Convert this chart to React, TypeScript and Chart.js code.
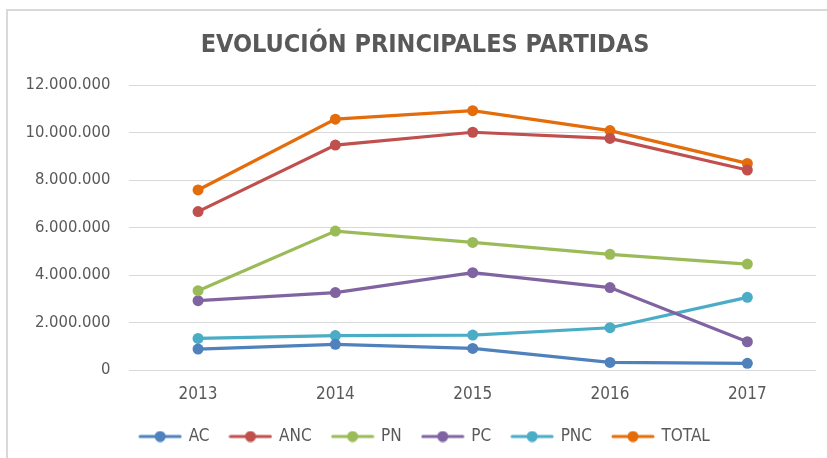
import React, { useEffect, useRef } from "react";
import { Chart, registerables } from "chart.js";

Chart.register(...registerables);

const years = ["2013", "2014", "2015", "2016", "2017"];
const acValues = [880000, 1080000, 910000, 320000, 280000];
const ancValues = [6670000, 9470000, 10010000, 9750000, 8420000];
const pnValues = [3340000, 5850000, 5370000, 4870000, 4460000];
const pcValues = [2920000, 3260000, 4100000, 3470000, 1190000];
const pncValues = [1330000, 1450000, 1470000, 1780000, 3060000];
const totalValues = [7580000, 10560000, 10920000, 10080000, 8700000];

const seriesNames = ["AC", "ANC", "PN", "PC", "PNC", "TOTAL"];
const seriesColors = ["#4F81BD", "#C0504D", "#9BBB59", "#8064A2", "#4BACC6", "#E46C0A"];
const seriesValues = [acValues, ancValues, pnValues, pcValues, pncValues, totalValues];

const FONT = "'Liberation Sans Narrow', 'DejaVu Sans Condensed', sans-serif";

function makeMarker(color: string): HTMLCanvasElement {
  const c = document.createElement("canvas");
  c.width = 44;
  c.height = 12;
  const ctx = c.getContext("2d")!;
  ctx.strokeStyle = color;
  ctx.lineWidth = 3;
  ctx.lineCap = "round";
  ctx.beginPath();
  ctx.moveTo(2, 6);
  ctx.lineTo(42, 6);
  ctx.stroke();
  ctx.fillStyle = color;
  ctx.beginPath();
  ctx.arc(22, 6, 5.5, 0, Math.PI * 2);
  ctx.fill();
  return c;
}

function fmt(v: number): string {
  return String(Math.round(v)).replace(/\B(?=(\d{3})+(?!\d))/g, ".");
}

const shiftBlocks = {
  id: "shiftBlocks",
  afterLayout(chart: any) {
    if (chart.titleBlock) chart.titleBlock.left += 27;
    if (chart.legend) chart.legend.left += 27;
  },
};

export default function App() {
  const ref = useRef<HTMLCanvasElement>(null);
  useEffect(() => {
    if (!ref.current) return;
    const markers = seriesColors.map(makeMarker);
    const chart = new Chart(ref.current, {
      type: "line",
      data: {
        labels: years,
        datasets: seriesNames.map((name, i) => ({
          label: name,
          data: seriesValues[i],
          borderColor: seriesColors[i],
          backgroundColor: seriesColors[i],
          borderWidth: 3.2,
          pointRadius: 5.5,
          pointBorderWidth: 0,
          pointStyle: "circle",
          tension: 0,
        })),
      },
      plugins: [shiftBlocks],
      options: {
        animation: false,
        responsive: false,
        layout: { padding: { left: 7, right: 11, top: 10, bottom: 3 } },
        plugins: {
          title: {
            display: true,
            text: "EVOLUCIÓN PRINCIPALES PARTIDAS",
            color: "#595959",
            font: { family: FONT, size: 25, weight: "bold" },
            padding: { top: 20, bottom: 25 },
          },
          legend: {
            position: "bottom",
            labels: {
              usePointStyle: true,
              pointStyleWidth: 40,
              color: "#595959",
              font: { family: FONT, size: 17 },
              padding: 21,
              generateLabels: (ch: any) =>
                ch.data.datasets.map((ds: any, i: number) => ({
                  text: ds.label,
                  fillStyle: ds.borderColor,
                  strokeStyle: ds.borderColor,
                  lineWidth: 0,
                  pointStyle: markers[i],
                  hidden: false,
                  datasetIndex: i,
                  fontColor: "#595959",
                })),
            },
          },
          tooltip: { enabled: false },
        },
        scales: {
          x: {
            offset: true,
            grid: { display: false, drawTicks: false },
            border: { display: false },
            ticks: { color: "#595959", font: { family: FONT, size: 17 }, padding: 14 },
            afterFit: (s: any) => {
              s.height = 37;
            },
          },
          y: {
            min: 0,
            max: 12000000,
            grid: { color: "#D9D9D9", lineWidth: 1, drawTicks: false },
            border: { display: false },
            ticks: {
              stepSize: 2000000,
              color: "#595959",
              font: { family: FONT, size: 16.5 },
              padding: 19,
              callback: (v: any) => fmt(Number(v)),
            },
            afterFit: (s: any) => {
              s.width = 122.4;
            },
          },
        },
      } as any,
    });
    return () => chart.destroy();
  }, []);
  return (
    <div style={{ position: "absolute", left: 0, top: 0, width: 827, height: 458, background: "#fff" }}>
      <div
        style={{
          position: "absolute",
          left: 6,
          top: 9,
          right: 0,
          bottom: 0,
          borderTop: "2px solid #D9D9D9",
          borderLeft: "2px solid #D9D9D9",
        }}
      />
      <canvas ref={ref} width={827} height={458} style={{ position: "absolute", left: 0, top: 0 }} />
    </div>
  );
}
